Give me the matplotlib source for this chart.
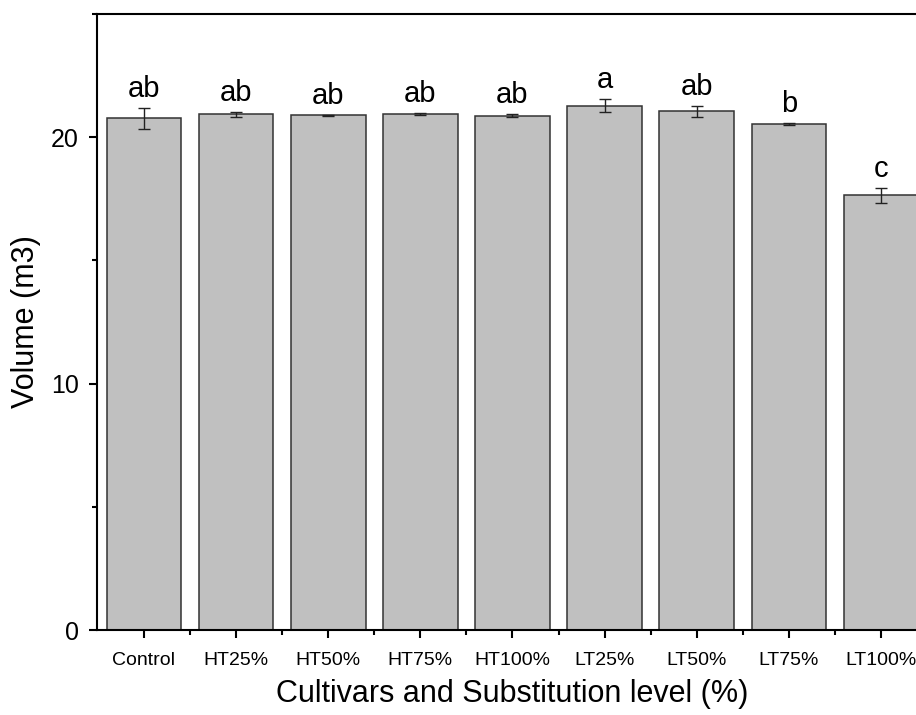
import matplotlib
matplotlib.use("Agg")
import matplotlib.pyplot as plt
import numpy as np
from matplotlib.ticker import MultipleLocator, FixedLocator

plt.rcParams["font.family"] = ["Liberation Sans", "DejaVu Sans"]

categories = ["Control", "HT25%", "HT50%", "HT75%", "HT100%", "LT25%", "LT50%", "LT75%", "LT100%"]
volume = [20.77, 20.94, 20.89, 20.93, 20.88, 21.28, 21.05, 20.53, 17.64]
volume_err = [0.43, 0.10, 0.03, 0.04, 0.05, 0.27, 0.23, 0.03, 0.31]
letters = ["ab", "ab", "ab", "ab", "ab", "a", "ab", "b", "c"]

fig = plt.figure(figsize=(9.16, 7.15), dpi=100, facecolor="white")
# axes run past the right edge, as in the reference (cropped figure)
ax = fig.add_axes([97 / 916, 85 / 715, 830 / 916, 616 / 715])

x = np.arange(len(categories))
ax.bar(x, volume, width=0.81, color="#c0c0c0", edgecolor="#333333", linewidth=1.1, zorder=2)
ax.errorbar(x, volume, yerr=volume_err, fmt="none", ecolor="#222222", elinewidth=1.0,
            capsize=4.5, capthick=1.0, zorder=3)
for xi, v, e, lab in zip(x, volume, volume_err, letters):
    ax.text(xi, v + e + 0.2, lab, ha="center", va="bottom", fontsize=21)

ax.set_xlim(-0.51, len(categories) - 0.5)
ax.set_ylim(0, 25)
ax.set_xticks(x)
ax.set_xticklabels(categories, fontsize=14)
ax.xaxis.set_minor_locator(FixedLocator(x[:-1] + 0.5))
ax.yaxis.set_major_locator(MultipleLocator(10))
ax.yaxis.set_minor_locator(MultipleLocator(5))
ax.tick_params(axis="y", which="major", direction="out", length=6, width=1.5, labelsize=18, pad=7)
ax.tick_params(axis="y", which="minor", direction="out", length=3.5, width=1.5)
ax.tick_params(axis="x", which="major", direction="out", length=6, width=1.5, pad=10)
ax.tick_params(axis="x", which="minor", direction="out", length=3.5, width=1.5)
for s in ax.spines.values():
    s.set_linewidth(1.5)

ax.set_xlabel("Cultivars and Substitution level (%)", fontsize=22, labelpad=7)
ax.set_ylabel("Volume (m3)", fontsize=22, labelpad=7)

fig.savefig("out.png", dpi=100)
plt.close(fig)
